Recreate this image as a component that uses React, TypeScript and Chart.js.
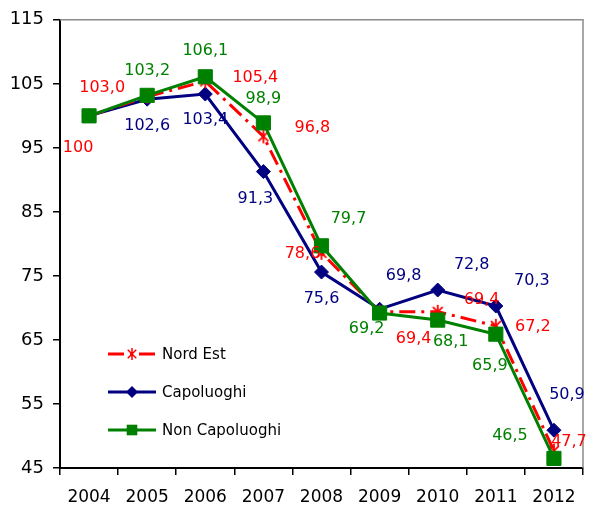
import React, { useEffect, useRef } from "react";
import { Chart, registerables } from "chart.js";

Chart.register(...registerables);

const years = ["2004", "2005", "2006", "2007", "2008", "2009", "2010", "2011", "2012"];
const nordEst = [100, 103.0, 105.4, 96.8, 78.6, 69.4, 69.4, 67.2, 47.7];
const capoluoghi = [100, 102.6, 103.4, 91.3, 75.6, 69.8, 72.8, 70.3, 50.9];
const nonCapoluoghi = [100, 103.2, 106.1, 98.9, 79.7, 69.2, 68.1, 65.9, 46.5];
const yMin = 45;
const yMax = 115;
const yStep = 10;

// label placement offsets (dx, dy) relative to each point; null = no label
const nordEstLabelOffsets: ([number, number] | null)[] = [
  [-11, 34], [-45, -7], [50, -1], [49, -6], [-19, 3], [34, 29], [44, -10], [37, 3], [15, -7],
];
const capoluoghiLabelOffsets: ([number, number] | null)[] = [
  null, [0, 29], [0, 28], [-8, 29], [0, 29], [24, -31], [34, -23], [36, -23], [13, -33],
];
const nonCapoluoghiLabelOffsets: ([number, number] | null)[] = [
  null, [0, -23], [0, -24], [0, -22], [27, -25], [-13, 18], [13, 24], [-6, 34], [-44, -21],
];

const RED = "#FF0000";
const NAVY = "#000080";
const GREEN = "#008000";
const FONT = "'DejaVu Sans', Verdana, sans-serif";
const RED_DASH = [16, 6, 3, 6];

function fmt(v: number): string {
  if (v === 100) return "100";
  return v.toFixed(1).replace(".", ",");
}

function makeStar(r: number, lw: number): HTMLCanvasElement {
  const size = Math.ceil(2 * r + lw + 2);
  const c = document.createElement("canvas");
  c.width = size;
  c.height = size;
  const g = c.getContext("2d")!;
  const cx = size / 2;
  const cy = size / 2;
  g.strokeStyle = RED;
  g.lineWidth = lw;
  g.beginPath();
  g.moveTo(cx, cy - r);
  g.lineTo(cx, cy + r);
  const d = r * Math.SQRT1_2;
  g.moveTo(cx - d, cy - d);
  g.lineTo(cx + d, cy + d);
  g.moveTo(cx + d, cy - d);
  g.lineTo(cx - d, cy + d);
  g.stroke();
  return c;
}

function drawMarker(ctx: CanvasRenderingContext2D, style: string, x: number, y: number, r: number, color: string) {
  ctx.save();
  ctx.fillStyle = color;
  ctx.strokeStyle = color;
  ctx.lineWidth = 1.5;
  ctx.beginPath();
  if (style === "rect") {
    const s = Math.SQRT1_2 * r;
    ctx.rect(x - s, y - s, 2 * s, 2 * s);
    ctx.fill();
  } else if (style === "rectRot") {
    ctx.moveTo(x, y - r);
    ctx.lineTo(x + r, y);
    ctx.lineTo(x, y + r);
    ctx.lineTo(x - r, y);
    ctx.closePath();
    ctx.fill();
  } else {
    ctx.moveTo(x, y - r);
    ctx.lineTo(x, y + r);
    const d = r * Math.SQRT1_2;
    ctx.moveTo(x - d, y - d);
    ctx.lineTo(x + d, y + d);
    ctx.moveTo(x + d, y - d);
    ctx.lineTo(x - d, y + d);
    ctx.stroke();
  }
  ctx.restore();
}

const overlayPlugin = {
  id: "overlay",
  afterDraw(chart: any) {
    const { ctx, chartArea: a } = chart;
    ctx.save();
    // gray frame top & right
    ctx.strokeStyle = "#8c8c8c";
    ctx.lineWidth = 1.5;
    ctx.beginPath();
    ctx.moveTo(a.left, a.top);
    ctx.lineTo(a.right, a.top);
    ctx.lineTo(a.right, a.bottom);
    ctx.stroke();

    // data labels
    const offsetsList = [nordEstLabelOffsets, capoluoghiLabelOffsets, nonCapoluoghiLabelOffsets];
    ctx.font = `16px ${FONT}`;
    ctx.textAlign = "center";
    ctx.textBaseline = "middle";
    chart.data.datasets.forEach((ds: any, di: number) => {
      const meta = chart.getDatasetMeta(di);
      const offs = offsetsList[di];
      ctx.fillStyle = ds.borderColor;
      meta.data.forEach((pt: any, i: number) => {
        const o = offs[i];
        if (!o) return;
        ctx.fillText(fmt(ds.data[i]), pt.x + o[0], pt.y + o[1] - 2);
      });
    });

    // legend
    const items = [
      { label: "Nord Est", color: RED, style: "star", dash: RED_DASH, r: 6 },
      { label: "Capoluoghi", color: NAVY, style: "rectRot", dash: [], r: 6 },
      { label: "Non Capoluoghi", color: GREEN, style: "rect", dash: [], r: 7.5 },
    ];
    const lx0 = 108;
    const lx1 = 156;
    const ys = [354, 392, 430];
    ctx.font = `15px ${FONT}`;
    ctx.textAlign = "left";
    items.forEach((it, k) => {
      const y = ys[k];
      ctx.strokeStyle = it.color;
      ctx.lineWidth = 3;
      ctx.setLineDash(it.dash);
      ctx.beginPath();
      ctx.moveTo(lx0, y);
      ctx.lineTo(lx1, y);
      ctx.stroke();
      ctx.setLineDash([]);
      drawMarker(ctx, it.style, (lx0 + lx1) / 2, y, it.r, it.color);
      ctx.fillStyle = "#000";
      ctx.fillText(it.label, 162, y + 1);
    });
    ctx.restore();
  },
};

export default function App() {
  const ref = useRef<HTMLCanvasElement | null>(null);

  useEffect(() => {
    if (!ref.current) return;
    const star = makeStar(7, 1.8);
    const chart = new Chart(ref.current, {
      type: "line",
      data: {
        labels: years,
        datasets: [
          {
            label: "Nord Est",
            data: nordEst,
            borderColor: RED,
            backgroundColor: RED,
            borderWidth: 3,
            borderDash: RED_DASH,
            pointStyle: star as any,
            pointRadius: 7,
            tension: 0,
            order: 1,
          },
          {
            label: "Capoluoghi",
            data: capoluoghi,
            borderColor: NAVY,
            backgroundColor: NAVY,
            borderWidth: 3,
            pointStyle: "rectRot",
            pointRadius: 7,
            pointBorderWidth: 1,
            pointBorderColor: NAVY,
            tension: 0,
            order: 2,
          },
          {
            label: "Non Capoluoghi",
            data: nonCapoluoghi,
            borderColor: GREEN,
            backgroundColor: GREEN,
            borderWidth: 3,
            pointStyle: "rect",
            pointRadius: 10,
            pointBorderWidth: 1,
            pointBorderColor: GREEN,
            tension: 0,
            order: 0,
          },
        ],
      },
      options: {
        responsive: false,
        animation: false,
        layout: { padding: { top: 15, right: 8, left: 0, bottom: 0 } },
        plugins: {
          legend: { display: false },
          tooltip: { enabled: false },
        },
        scales: {
          x: {
            offset: true,
            grid: {
              offset: true,
              drawOnChartArea: false,
              drawTicks: true,
              tickLength: 7,
              color: "#000",
              lineWidth: 1.5,
            },
            border: { color: "#000", width: 2 },
            ticks: {
              color: "#000",
              font: { family: FONT, size: 17 },
              maxRotation: 0,
              autoSkip: false,
              padding: 12,
            },
            afterFit: (s: any) => {
              s.height = 40;
            },
          },
          y: {
            min: yMin,
            max: yMax,
            grid: {
              drawOnChartArea: false,
              drawTicks: true,
              tickLength: 7,
              color: "#000",
              lineWidth: 1.5,
            },
            border: { color: "#000", width: 2 },
            ticks: {
              stepSize: yStep,
              color: "#000",
              font: { family: FONT, size: 18 },
              padding: 9,
            },
            afterFit: (s: any) => {
              s.width = 60;
            },
          },
        },
      },
      plugins: [overlayPlugin],
    });
    return () => chart.destroy();
  }, []);

  return (
    <div style={{ position: "fixed", left: 0, top: 0, width: 594, height: 508, background: "#fff" }}>
      <canvas ref={ref} width={594} height={508} />
    </div>
  );
}
